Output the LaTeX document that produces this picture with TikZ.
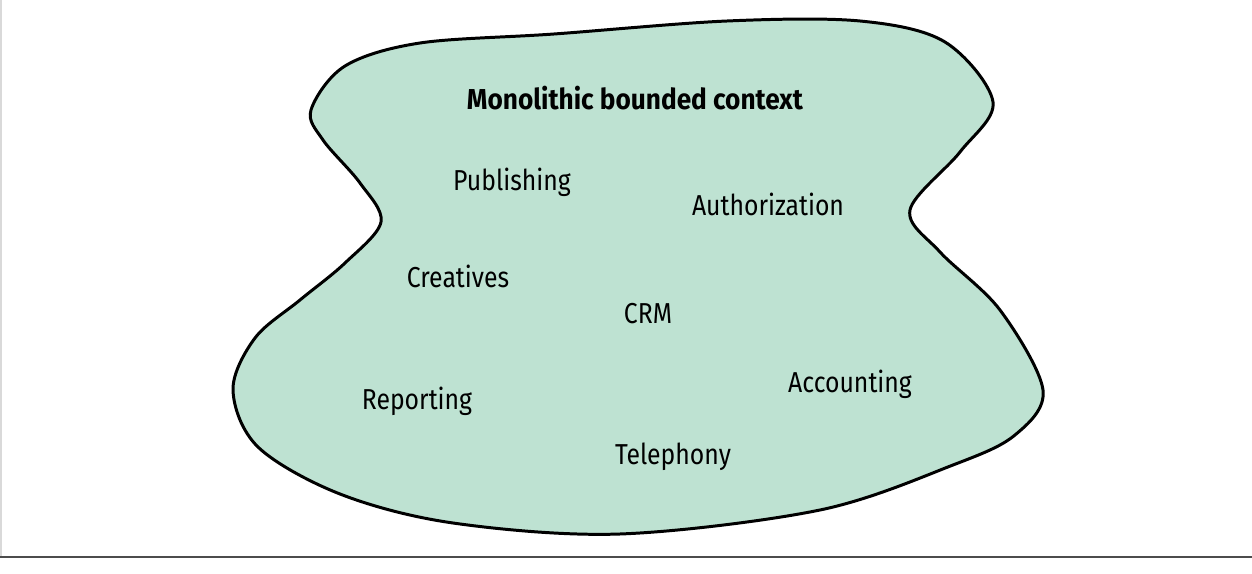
\documentclass[tikz,border=0pt]{standalone}
\usepackage{fontspec}
\setmainfont{Fira Sans}[FakeStretch=0.86, BoldFeatures={FakeStretch=0.91}]
\usepackage{xcolor}
\definecolor{contextgreen}{RGB}{190,226,210}

\begin{document}
\begin{tikzpicture}[x=0.02cm, y=-0.02cm,
		subdomain/.style={font=\fontsize{16.4}{20}\selectfont, inner sep=0pt}]
			\useasboundingbox (0,0) rectangle (1252,574);
			% frame
			\draw [black!15, line width=0.6pt] (1,0) -- (1,556);
			\draw [black!70, line width=1pt] (0,557) -- (1252,557);
			% the blob
			\draw [fill=contextgreen, line width=1.7pt]
				plot [smooth cycle, tension=0.55] coordinates {
					(311,110) (345,66) (420,43) (554,34) (727,21) (860,21) (945,42)
					(993,102) (960,152) (910,210) (940,252) (1000,310)
					(1043,390) (1015,435) (953,465) (820,510) (620,534) (453,523)
					(340,494) (258,447) (233,390) (255,338) (300,300)
					(345,263) (381,222) (360,183) (323,140)};
			\node [subdomain, font=\fontsize{16.4}{20}\selectfont\bfseries] (title) at (635,98) {Monolithic bounded context};
			\node [subdomain] (publishing) at (512,182) {Publishing};
			\node [subdomain] (authorization) at (768,204) {Authorization};
			\node [subdomain] (creatives) at (458,276) {Creatives};
			\node [subdomain] (crm) at (648,314) {CRM};
			\node [subdomain] (reporting) at (417,401) {Reporting};
			\node [subdomain] (accounting) at (850,384) {Accounting};
			\node [subdomain] (telephony) at (673,457) {Telephony};
		\end{tikzpicture}
\end{document}
